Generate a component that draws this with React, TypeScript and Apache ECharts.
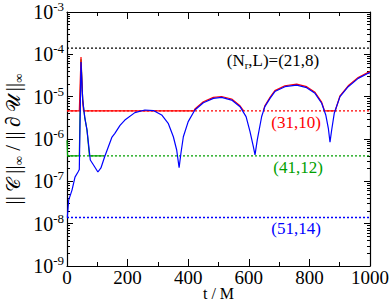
import React, { useEffect, useRef } from "react";
import * as echarts from "echarts";

// Blue curve (51,14)
const blueT = [1, 5.6, 16.5, 26.4, 36.3, 40.6, 46.2, 51.8, 58.4, 66, 76.9, 88, 102, 112, 124, 148.5, 158, 175, 191, 224, 257, 285, 312.5, 334, 351, 362, 370, 376, 384, 400, 422, 450, 483, 510, 543.5, 571, 591, 604, 615, 620.5, 628, 642.5, 653, 670, 686, 719, 758, 791, 818.5, 840.5, 854, 862.5, 868, 873.5, 882, 901, 928, 961, 994, 1000];
const blueV = [1.4e-8, 3.6e-8, 6.2e-8, 1.26e-7, 1.66e-7, 1.9e-7, 6.6e-5, 8.3e-6, 3.3e-6, 1.63e-6, 3.2e-7, 2.4e-7, 1.66e-7, 2.07e-7, 3.75e-7, 1.11e-6, 1.36e-6, 2.1e-6, 2.8e-6, 4.2e-6, 4.84e-6, 4.7e-6, 3.7e-6, 2.35e-6, 1.13e-6, 5.5e-7, 2.1e-7, 4.6e-7, 1.13e-6, 2.57e-6, 4.84e-6, 7.2e-6, 9.1e-6, 9.6e-6, 8.3e-6, 5.8e-6, 3.37e-6, 1.49e-6, 6.6e-7, 4.2e-7, 9.5e-7, 3.4e-6, 5.8e-6, 9.1e-6, 1.32e-5, 1.72e-5, 1.88e-5, 1.63e-5, 1.2e-5, 7.0e-6, 3.7e-6, 1.79e-6, 8.4e-7, 1.63e-6, 4.05e-6, 1.0e-5, 1.72e-5, 2.7e-5, 3.56e-5, 3.7e-5];

// Red curve (31,10), in segments
const redT1 = [0, 40.6, 46.2, 51.5, 54.5, 419, 422, 450, 483, 510, 543.5, 571, 583];
const redV1 = [4.6e-6, 4.6e-6, 8.6e-5, 9.0e-6, 4.6e-6, 4.6e-6, 5.1e-6, 7.6e-6, 9.6e-6, 1.01e-5, 8.8e-6, 6.1e-6, 4.6e-6];
const redT2 = [648, 653, 670, 686, 719, 758, 791, 818.5, 840.5, 850, 885, 901, 928, 961, 994, 1000];
const redV2 = [4.6e-6, 6.1e-6, 9.6e-6, 1.39e-5, 1.81e-5, 1.98e-5, 1.72e-5, 1.27e-5, 7.4e-6, 4.6e-6, 4.6e-6, 1.05e-5, 1.81e-5, 2.85e-5, 3.75e-5, 3.9e-5];

// Green curve (41,12)
const greenT = [0, 2, 40.6, 46.2, 51.8, 58.4, 66, 74, 121];
const greenV = [9.3e-7, 4.0e-7, 4.0e-7, 7.6e-5, 8.3e-6, 3.3e-6, 1.63e-6, 4.0e-7, 4.0e-7];

// Reference levels
const levelBlack = 1.4e-4;
const levelRed = 4.6e-6;
const levelGreen = 4.0e-7;
const levelBlue = 1.4e-8;

const xTicks = [0, 200, 400, 600, 800, 1000];
const yMinorTicks: number[] = [];
for (let e = -9; e < -3; e++) {
  for (let m = 2; m <= 9; m++) yMinorTicks.push(m * Math.pow(10, e));
}

const pairs = (t: number[], v: number[]) => t.map((x, i) => [x, v[i]]);

const FONT = "Liberation Serif";

export default function App() {
  const ref = useRef<HTMLDivElement>(null);
  useEffect(() => {
    if (!ref.current) return;
    const chart = echarts.init(ref.current, undefined, { renderer: "svg" });
    const axisLine = { show: true, lineStyle: { color: "#000", width: 1.2 } };
    const xMain = {
      type: "value",
      min: xTicks[0],
      max: xTicks[xTicks.length - 1],
      interval: 200,
      splitLine: { show: false },
      axisLine,
      axisTick: { inside: true, length: 7, lineStyle: { color: "#000" } },
      minorTick: { show: true, splitNumber: 2, length: 4, lineStyle: { color: "#000" } },
    };
    const yBase = {
      type: "log",
      logBase: 10,
      min: 1e-9,
      max: 1e-3,
      splitLine: { show: false },
      axisLine,
    };
    const dotted = (v: number, color: string) => ({
      type: "line",
      data: [[0, v], [1000, v]],
      symbol: "none",
      color,
      itemStyle: { color },
      lineStyle: { color, width: 1.3, type: [2, 2] },
      silent: true,
    });
    const solid = (d: number[][], color: string) => ({
      type: "line",
      data: d,
      symbol: "none",
      color,
      itemStyle: { color },
      lineStyle: { color, width: 1.2 },
    });
    chart.setOption({
      animation: false,
      backgroundColor: "#fff",
      grid: { left: 67, right: 22, top: 12, bottom: 37, containLabel: false, outerBoundsMode: "none" },
      xAxis: [
        {
          ...xMain,
          position: "bottom",
          axisLabel: { color: "#000", fontFamily: FONT, fontSize: 19, margin: 2, formatter: (v: number) => String(v) },
          name: "t / M",
          nameLocation: "middle",
          nameGap: 19,
          nameMoveOverlap: false,
          nameTextStyle: { color: "#000", fontFamily: FONT, fontSize: 16 },
        },
        { ...xMain, position: "top", axisLabel: { show: false } },
      ],
      yAxis: [
        {
          ...yBase,
          position: "left",
          axisTick: { inside: true, length: 6, lineStyle: { color: "#000" } },
          axisLabel: {
            margin: 3,
            formatter: (val: number) => {
              const e = Math.round(Math.log10(val));
              return `{b|10}{s|${e}}`;
            },
            rich: {
              b: { fontFamily: FONT, fontSize: 20, color: "#000" },
              s: { fontFamily: FONT, fontSize: 13, color: "#000", verticalAlign: "top", padding: [0, 0, 11, 0] },
            },
          },
          name: "{t|||\u2009}{c|\ud835\udc9e}{t|\u2009||}{i|\u221e}{t| / ||\u2009\u2202\u2009}{c|\ud835\udcb0}{t|\u2009||}{i|\u221e}",
          nameLocation: "middle",
          nameRotate: 90,
          nameGap: 42,
          nameMoveOverlap: false,
          nameTextStyle: {
            rich: {
              t: { fontFamily: FONT, fontSize: 21, color: "#000" },
              c: { fontFamily: "DejaVu Serif, DejaVu Sans, Noto Sans", fontSize: 19, color: "#000" },
              i: { fontFamily: FONT, fontSize: 13, color: "#000", padding: [11, 0, 0, 0] },
            },
          },
        },
        {
          ...yBase,
          position: "left",
          axisLine: { show: false },
          axisLabel: { show: false },
          axisTick: { inside: true, length: 3, customValues: yMinorTicks, lineStyle: { color: "#000" } },
        },
        {
          ...yBase,
          position: "right",
          axisLabel: { show: false },
          axisTick: { inside: true, length: 6, lineStyle: { color: "#000" } },
        },
        {
          ...yBase,
          position: "right",
          axisLine: { show: false },
          axisLabel: { show: false },
          axisTick: { inside: true, length: 3, customValues: yMinorTicks, lineStyle: { color: "#000" } },
        },
      ],
      series: [
        dotted(levelBlack, "#000000"),
        dotted(levelRed, "#ff0000"),
        dotted(levelGreen, "#00a000"),
        dotted(levelBlue, "#0000ff"),
        solid(pairs(greenT, greenV), "#00a000"),
        solid(pairs(redT1, redV1), "#ff0000"),
        solid(pairs(redT2, redV2), "#ff0000"),
        solid(pairs(blueT, blueV), "#0000ff"),
      ],
      graphic: [
        {
          type: "text",
          x: 273,
          y: 60,
          style: {
            text: "(N{s|r},L)=(21,8)",
            fontFamily: FONT,
            fontSize: 17,
            fill: "#000",
            align: "center",
            verticalAlign: "middle",
            rich: { s: { fontFamily: FONT, fontSize: 11, fill: "#000", padding: [10, 0, 0, 0] } },
          },
        },
        { type: "text", x: 296, y: 122, style: { text: "(31,10)", fontFamily: FONT, fontSize: 17, fill: "#ff0000", align: "center", verticalAlign: "middle" } },
        { type: "text", x: 298, y: 167, style: { text: "(41,12)", fontFamily: FONT, fontSize: 17, fill: "#00a000", align: "center", verticalAlign: "middle" } },
        { type: "text", x: 296, y: 228, style: { text: "(51,14)", fontFamily: FONT, fontSize: 17, fill: "#0000ff", align: "center", verticalAlign: "middle" } },
      ],
    });
    return () => chart.dispose();
  }, []);
  return <div ref={ref} style={{ width: 392, height: 303, position: "absolute", left: 0, top: 0 }} />;
}
